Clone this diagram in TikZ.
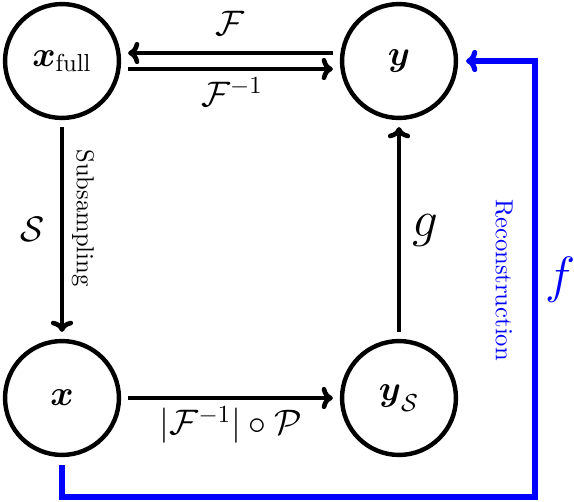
\documentclass[tikz,border=0pt]{standalone}
\usepackage{amsmath,bm}
\usetikzlibrary{arrows.meta}
\tikzset{
  state/.style={circle,draw,line width=1.8pt,inner sep=0pt,minimum size=46.3pt,font=\Large},
  arr/.style={line width=1.9pt,-{To[length=4.6pt,width=9pt]},shorten <=2.8pt,shorten >=2.8pt},
  rec/.style={draw=blue,line width=2.1pt,-{To[length=4.6pt,width=9pt]},shorten <=3.2pt,shorten >=3.2pt},
  lbl/.style={inner sep=0pt,font=\Large},
  biglbl/.style={inner sep=0pt,font=\huge},
  sidetext/.style={inner sep=0pt,rotate=-90,font=\normalsize}
}
\begin{document}
\begin{tikzpicture}[x=0.4065pt,y=-0.4065pt]
\useasboundingbox (0,0) rectangle (574,502);
\node[state] (xf) at (62,61) {${\bm{x}}_{\text{full}}$};
\node[state] (y) at (399,61) {$\bm{y}$};
\node[state] (x) at (62,398) {$\bm{x}$};
\node[state] (ys) at (399,398) {$\bm{y}_{\kern0.5pt\raisebox{-2.6pt}{$\scriptstyle\mathcal{S}$}}$};
\coordinate (bl) at (62,497);
\coordinate (br) at (535,497);
\coordinate (tr) at (535,61);
% connectors
\draw[arr] ([yshift=3.25pt]y.west) -- ([yshift=3.25pt]xf.east);
\draw[arr] ([yshift=-3.25pt]xf.east) -- ([yshift=-3.25pt]y.west);
\draw[arr] (xf) -- (x);
\draw[arr] (x) -- (ys);
\draw[arr] (ys) -- (y);
\draw[rec] (x.south) -- (bl) -- (br) -- (tr) -- (y.east);
% labels
\node[lbl] (lF) at (230,23) {$\mathcal{F}$};
\node[lbl] (lFi) at (232,92) {$\mathcal{F}^{-1}$};
\node[lbl] (lS) at (33,229) {$\mathcal{S}$};
\node[sidetext] (lSub) at (83,218) {Subsampling};
\node[biglbl] (lg) at (425,230) {$g$};
\node[lbl] (lP) at (231,425) {$|\mathcal{F}^{-1}|\circ\mathcal{P}$};
\node[sidetext,text=blue] (lRec) at (504,280) {Reconstruction};
\node[biglbl,text=blue] (lf) at (561,280) {$f$};
\end{tikzpicture}
\end{document}
